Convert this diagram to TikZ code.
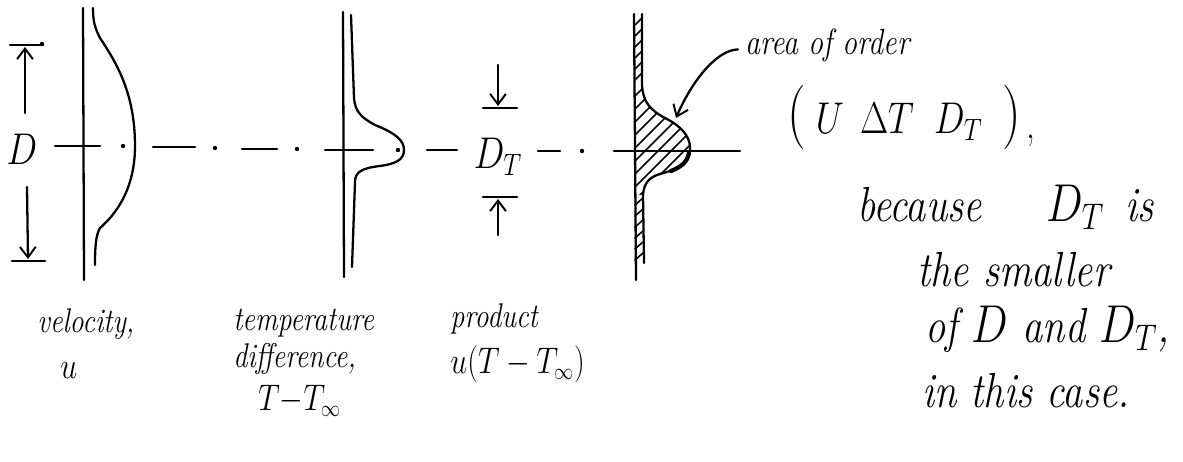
\documentclass[tikz,border=0pt]{standalone}
\usepackage{fontspec}
\usetikzlibrary{arrows.meta}
\newcommand\hwtall[1]{\scalebox{1}[1.22]{#1}}
\newcommand\bigparen[1]{{\fontsize{30}{30}\selectfont\upshape #1}}
\begin{document}
\begin{tikzpicture}[x=0.02cm,y=-0.02cm, line cap=round, line join=round,
  ink/.style={line width=1.3pt},
  thinink/.style={line width=0.9pt},
  barb/.style={-{Straight Barb[length=6pt,width=9pt,line width=1.1pt]}},
  lbl/.style={anchor=base west, inner sep=0pt, font=\fontsize{16}{18}\selectfont\itshape},
  big/.style={anchor=base west, inner sep=0pt, font=\fontsize{23}{27}\selectfont\itshape},
  mid/.style={anchor=base west, inner sep=0pt, font=\fontsize{17}{20}\selectfont\itshape}]
\useasboundingbox (0,0) rectangle (1183,462);

% ---------- velocity panel ----------
\draw[ink] (83,8) -- (84,280);
\draw[ink] (93,8) .. controls (93,22) and (95,28) .. (100,38)
  .. controls (118,65) and (135,95) .. (135,146)
  .. controls (135,190) and (115,215) .. (100,228)
  .. controls (96,235) and (95,245) .. (95,265);

% D dimension
\coordinate (dtopbar) at (25,47);
\coordinate (dtopstart) at (25,113);
\coordinate (dbotbar) at (28,259);
\coordinate (dbotstart) at (27,187);
\draw[ink] (10,45) -- (43,45);
\fill (42,44) circle (2.2);
\draw[ink,barb] (dtopstart) -- (dtopbar);
\draw[ink] (12,261) -- (45,261);
\draw[ink,barb] (dbotstart) -- (dbotbar);
\node[inner sep=0pt, font=\fontsize{22}{26}\selectfont] (D) at (22,149) {\hwtall{$D$}};

% ---------- centre line (dash-dot) ----------
\foreach \a/\b/\y in {55/100/146, 153/195/147, 242/277/149, 325/373/150,
                      427/457/150, 538/560/151, 614/740/151}
  \draw[ink] (\a,\y) -- (\b,\y);
\foreach \x/\y in {123/146, 215/148, 297/149, 398/150, 582/151}
  \fill (\x,\y) circle (2.2);

% ---------- temperature panel ----------
\draw[ink] (343,12) -- (344,277);
\draw[ink] (351,15) -- (354,98) .. controls (355,112) and (362,118) .. (375,125)
  .. controls (395,133) and (404,140) .. (404,150)
  .. controls (404,160) and (395,164) .. (380,166)
  .. controls (362,168) and (355,172) .. (355,182) -- (352,267);

% D_T dimension
\coordinate (ttopstart) at (498,65);
\coordinate (ttopbar) at (498,106);
\coordinate (tbotstart) at (498,235);
\coordinate (tbotbar) at (498,199);
\draw[ink,barb] (ttopstart) -- (ttopbar);
\draw[ink] (483,108) -- (517,108);
\draw[ink] (483,197) -- (517,197);
\draw[ink,barb] (tbotstart) -- (tbotbar);
\node[inner sep=0pt, font=\fontsize{20}{24}\selectfont] (DT) at (498,157) {\hwtall{$D_T$}};

% ---------- product panel ----------
\begin{scope}
  \clip (635,85) -- (642,85) .. controls (643,102) and (650,110) .. (665,118)
    .. controls (685,128) and (691,140) .. (690,150)
    .. controls (689,165) and (675,170) .. (660,174)
    .. controls (650,177) and (644,182) .. (643,195) -- (635,195) -- cycle;
  \foreach \k in {718,731,...,900}
    \draw[thinink] (\k-200,200) -- (\k-80,80);
\end{scope}
\foreach \y in {18,29,...,80}
  \draw[thinink] (635,\y+7) -- (642,\y);
\foreach \y in {198,209,...,258}
  \draw[thinink] (635,\y+7) -- (643,\y);
\draw[ink] (634,14) -- (636,280);
\draw[ink] (642,14) -- (642,85) .. controls (643,102) and (650,110) .. (665,118)
  .. controls (685,128) and (691,140) .. (690,150)
  .. controls (689,165) and (675,170) .. (660,174)
  .. controls (650,177) and (644,182) .. (643,195) -- (644,263);
\draw[line width=2.4pt] (689,152) .. controls (688,162) and (681,167) .. (671,171);

% pointer arrow
\node[mid] (area) at (745,55) {\hwtall{area of order}};
\coordinate (arrowtip) at (676,118);
\draw[ink,barb] ([xshift=-4pt,yshift=-2pt]area.west) .. controls (715,50) and (690,85) .. (arrowtip);

% ---------- texts ----------
\node[anchor=base west, inner sep=0pt, font=\fontsize{20}{24}\selectfont] (formula) at (787,134)
  {\hwtall{\bigparen{(}\;$U\;\,\Delta T\;\;D_T$\;\;\bigparen{)}\,\raisebox{-2pt}{,}}};
\node[big] (because) at (857,222) {\hwtall{because}};
\node[big] (dt2) at (1046,222) {\hwtall{$D_T$}};
\node[big] (is) at (1125,222) {\hwtall{is}};
\node[big] (smaller) at (917,287) {\hwtall{the smaller}};
\node[big] (ofD) at (925,343) {\hwtall{of $D$ and $D_T$,}};
\node[big] (case) at (922,407) {\hwtall{in this case.}};

\node[lbl] (vel) at (37,333) {\hwtall{velocity,}};
\node[lbl] (u) at (60,378) {\hwtall{$u$}};
\node[lbl] (temp) at (233,331) {\hwtall{temperature}};
\node[lbl] (diff) at (233,368) {\hwtall{difference,}};
\node[lbl] (tdiff) at (258,411) {\hwtall{$T{-}T_\infty$}};
\node[lbl] (prod) at (450,328) {\hwtall{product}};
\node[lbl] (uprod) at (450,374) {\hwtall{$u(T-T_\infty)$}};
\end{tikzpicture}
\end{document}
